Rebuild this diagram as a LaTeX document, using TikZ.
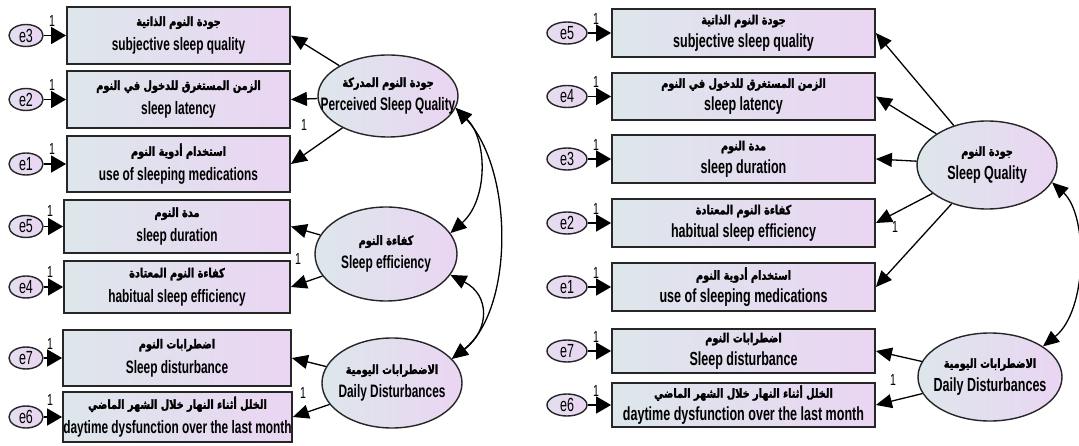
\documentclass[tikz,border=0pt]{standalone}
\usepackage{fontspec}
\setmainfont{Liberation Sans}[FakeStretch=0.66]
\newfontfamily\arabicfont[Script=Arabic,FakeBold=2,FakeStretch=0.78]{DejaVu Sans}
\TeXXeTstate=1
\usetikzlibrary{arrows.meta,shapes.geometric}
\newcommand\artext[1]{{\arabicfont\fontsize{12.5}{14}\selectfont\beginR #1\endR}}
\definecolor{shadeL}{HTML}{DDE7EB}
\definecolor{shadeR}{HTML}{EAD5F2}
\definecolor{edgec}{HTML}{262626}
\tikzset{
  obs/.style={draw=edgec, line width=1.8pt, left color=shadeL, right color=shadeR,
    align=center, inner sep=0pt, font=\bfseries\fontsize{18}{25}\selectfont},
  obsR/.style={obs, font=\bfseries\fontsize{19}{23}\selectfont},
  lat/.style={ellipse, draw=edgec, line width=1.4pt, left color=shadeL, right color=shadeR,
    align=center, inner sep=-30pt, font=\bfseries\fontsize{18}{24}\selectfont},
  latR/.style={lat, font=\bfseries\fontsize{19}{24}\selectfont},
  err/.style={ellipse, draw=edgec, line width=1.4pt, left color=shadeL!50!shadeR, right color=shadeR,
    inner sep=-10pt, font=\fontsize{19}{19}\selectfont},
  arr/.style={-{Triangle[length=16pt,width=14pt]}, line width=1.3pt, draw=black},
  errarr/.style={-{Triangle[length=15pt,width=17pt]}, line width=1.5pt, draw=black},
  cov/.style={{Triangle[length=16pt,width=14pt]}-{Triangle[length=16pt,width=14pt]}, line width=1.3pt, draw=black},
  one/.style={font=\fontsize{16}{16}\selectfont, inner sep=0pt}
}
\begin{document}
\begin{tikzpicture}[x=1pt,y=-1pt]
\useasboundingbox[fill=white] (0,0) rectangle (1079,446);

% ---------- first model: three factors ----------
\node[obs, minimum width=223pt, minimum height=57pt] (L1) at (178.5,35.5) {\artext{جودة النوم الذاتية}\\subjective sleep quality};
\node[obs, minimum width=223pt, minimum height=57pt] (L2) at (178.5,99.5) {\artext{الزمن المستغرق للدخول في النوم}\\sleep latency};
\node[obs, minimum width=223pt, minimum height=56pt] (L3) at (178.5,164) {\artext{استخدام أدوية النوم}\\use of sleeping medications};
\node[obs, minimum width=226pt, minimum height=53pt] (L4) at (177,226.5) {\artext{مدة النوم}\\sleep duration};
\node[obs, minimum width=226pt, minimum height=52pt] (L5) at (177,287) {\artext{كفاءة النوم المعتادة}\\habitual sleep efficiency};
\node[obs, minimum width=228pt, minimum height=56pt] (L6) at (177,358) {\artext{اضطرابات النوم}\\Sleep disturbance};
\node[obs, minimum width=229pt, minimum height=50pt] (L7) at (177.5,417) {\artext{الخلل أثناء النهار خلال الشهر الماضي}\\daytime dysfunction over the last month};

\node[err, minimum width=34pt, minimum height=22pt] (le3) at (26,35.5) {e3};
\node[err, minimum width=34pt, minimum height=22pt] (le2) at (26,99.5) {e2};
\node[err, minimum width=34pt, minimum height=22pt] (le1) at (26,164) {e1};
\node[err, minimum width=34pt, minimum height=22pt] (le5) at (26,226.5) {e5};
\node[err, minimum width=34pt, minimum height=22pt] (le4) at (26,287) {e4};
\node[err, minimum width=34pt, minimum height=22pt] (le7) at (26,358) {e7};
\node[err, minimum width=34pt, minimum height=22pt] (le6) at (26,417) {e6};

\foreach \e/\b in {le3/L1,le2/L2,le1/L3,le5/L4,le4/L5,le7/L6,le6/L7}
  \draw[errarr] (\e) -- (\b.west);

\node[one] (lo1) at (52,21) {1};
\node[one] (lo2) at (52,85) {1};
\node[one] (lo3) at (52,149) {1};
\node[one] (lo4) at (50,211) {1};
\node[one] (lo5) at (50,272) {1};
\node[one] (lo6) at (50,344) {1};
\node[one] (lo7) at (50,400) {1};

\node[lat, minimum width=140pt, minimum height=82pt] (PSQ) at (388,96) {\artext{جودة النوم المدركة}\\Perceived Sleep Quality};
\node[lat, minimum width=142pt, minimum height=94pt] (SE) at (386,254) {\artext{كفاءة النوم}\\Sleep efficiency};
\node[lat, minimum width=140pt, minimum height=90pt] (LDD) at (392,383) {\artext{الاضطرابات اليومية}\\Daily Disturbances};

\draw[arr] (PSQ) -- (L1.east);
\draw[arr] (PSQ) -- (L2.east);
\draw[arr] (PSQ) -- (L3.east);
\draw[arr] (SE) -- (L4.east);
\draw[arr] (SE) -- (L5.east);
\draw[arr] (LDD) -- (L6.east);
\draw[arr] (LDD) -- (L7.east);

\node[one] (lk1) at (304,125) {1};
\node[one] (lk2) at (298,259) {1};
\node[one] (lk3) at (303,393) {1};

% covariances between the three factors
\draw[cov] (PSQ.-10) .. controls (488,140) and (488,200) .. (SE.18);
\draw[cov] (SE.-18) .. controls (490,295) and (490,330) .. (LDD.22);
\draw[cov] (PSQ.-10) .. controls (514,170) and (514,310) .. (LDD.22);

% ---------- second model: two factors ----------
\node[obsR, minimum width=263pt, minimum height=48pt] (R1) at (743.5,33) {\artext{جودة النوم الذاتية}\\subjective sleep quality};
\node[obsR, minimum width=263pt, minimum height=47pt] (R2) at (743.5,96.5) {\artext{الزمن المستغرق للدخول في النوم}\\sleep latency};
\node[obsR, minimum width=263pt, minimum height=48pt] (R3) at (743.5,159) {\artext{مدة النوم}\\sleep duration};
\node[obsR, minimum width=263pt, minimum height=48pt] (R4) at (743.5,223) {\artext{كفاءة النوم المعتادة}\\habitual sleep efficiency};
\node[obsR, minimum width=263pt, minimum height=48pt] (R5) at (743.5,287) {\artext{استخدام أدوية النوم}\\use of sleeping medications};
\node[obsR, minimum width=263pt, minimum height=44pt] (R6) at (743.5,351) {\artext{اضطرابات النوم}\\Sleep disturbance};
\node[obsR, minimum width=263pt, minimum height=44pt] (R7) at (743.5,405) {\artext{الخلل أثناء النهار خلال الشهر الماضي}\\daytime dysfunction over the last month};

\node[err, minimum width=40pt, minimum height=22pt] (re5) at (567,33) {e5};
\node[err, minimum width=40pt, minimum height=22pt] (re4) at (567,96.5) {e4};
\node[err, minimum width=40pt, minimum height=22pt] (re3) at (567,159) {e3};
\node[err, minimum width=40pt, minimum height=22pt] (re2) at (567,223) {e2};
\node[err, minimum width=40pt, minimum height=22pt] (re1) at (567,287) {e1};
\node[err, minimum width=40pt, minimum height=22pt] (re7) at (567,351) {e7};
\node[err, minimum width=40pt, minimum height=22pt] (re6) at (567,405) {e6};

\foreach \e/\b in {re5/R1,re4/R2,re3/R3,re2/R4,re1/R5,re7/R6,re6/R7}
  \draw[errarr] (\e) -- (\b.west);

\node[one] (ro1) at (596,19) {1};
\node[one] (ro2) at (596,82) {1};
\node[one] (ro3) at (596,145) {1};
\node[one] (ro4) at (596,209) {1};
\node[one] (ro5) at (596,273) {1};
\node[one] (ro6) at (596,337) {1};
\node[one] (ro7) at (596,391) {1};

\node[latR, minimum width=140pt, minimum height=88pt] (SQ) at (987,165) {\artext{جودة النوم}\\Sleep Quality};
\node[latR, minimum width=144pt, minimum height=88pt] (RDD) at (990,377) {\artext{الاضطرابات اليومية}\\Daily Disturbances};

\foreach \b in {R1,R2,R3,R4,R5}
  \draw[arr] (SQ) -- (\b.east);
\draw[arr] (RDD) -- (R6.east);
\draw[arr] (RDD) -- (R7.east);

\node[one] (rk1) at (895,227) {1};
\node[one] (rk2) at (893,380) {1};

\draw[cov] (SQ.-15) .. controls (1088,215) and (1088,310) .. (RDD.30);
\end{tikzpicture}
\end{document}
